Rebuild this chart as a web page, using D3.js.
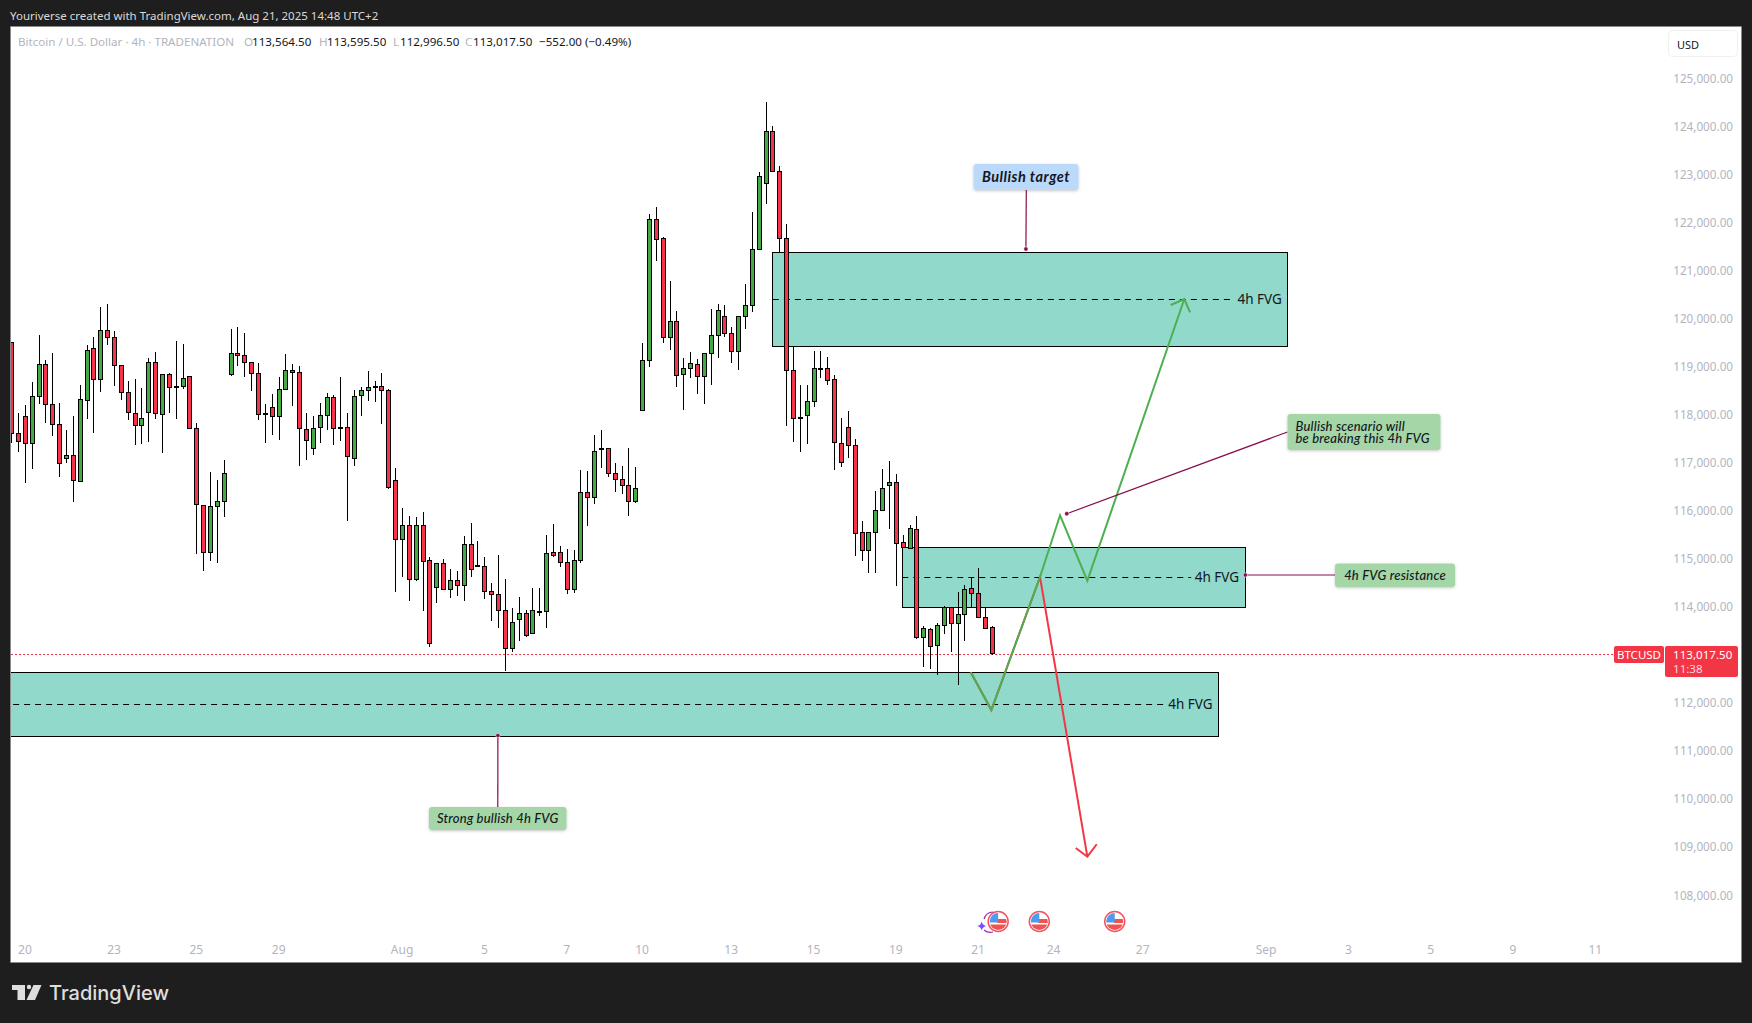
<!DOCTYPE html>
<html><head><meta charset="utf-8">
<script src="https://cdn.jsdelivr.net/npm/d3@7/dist/d3.min.js"></script>
<style>
html,body{margin:0;padding:0;background:#1e1e1e;overflow:hidden}
svg{display:block}
text{font-family:"Noto Sans",sans-serif}
</style></head><body>
<svg id="c" width="1752" height="1023"></svg>
<script>
const opens=[119500,117610,117960,117400,118380,119045,118210,117795,117090,117150,
116610,118295,119380,118730,119750,119605,119025,118460,118025,117775,
118045,119085,118005,118835,118580,118585,118795,117715,116110,115130,
116090,116195,118835,119275,119230,119085,118855,118020,118150,117960,
118525,118920,118880,117690,117295,117735,117985,118355,117735,117730,
117085,118400,118505,118590,118585,118505,116630,115400,115695,114570,
115695,114965,114400,114900,114360,114550,114445,115295,114865,114840,
114320,114255,113925,113135,113735,113860,113445,113905,113905,115130,
115130,114925,114360,114965,116380,116275,117300,117295,116775,116650,
116525,116190,118085,119125,122060,121665,119605,119940,118835,118960,
119045,118795,119275,119650,120045,119690,119315,120045,120270,121440,
122810,123895,123060,121665,118920,117935,117980,118275,118965,118960,
118730,117400,117735,117360,115545,115170,115545,116005,116525,116590,
115340,115215,115610,113360,113530,113195,113610,113985,113655,113840,
114380,114275,113780,113564.5];
const highs=[119500,118025,118190,118680,119650,119130,119275,118235,117670,117970,
118610,119440,119605,120230,120295,119730,119025,118690,118730,118545,
119170,119295,118835,118855,119525,119460,118795,117815,116110,116795,
116630,117045,119775,119815,119690,119085,119065,118210,118420,118775,
119255,119045,119005,118025,117960,118235,118440,118400,118775,118025,
118510,118565,118905,118690,118855,118525,116880,116045,115880,115860,
115965,115025,114900,114985,114775,114735,115465,115735,115360,115025,
114485,115070,114570,113965,114195,113925,114380,114380,115485,115715,
115255,115195,115175,116840,116815,117565,117670,117295,116985,116920,
117295,116900,119480,122165,122310,121685,120770,120145,119170,119295,
119150,119275,120190,120295,120270,119815,120045,120710,122210,123040,
124495,124000,123165,121960,119410,118605,118605,119315,119315,119190,
118815,117920,118065,117485,115775,115545,116400,116860,117025,116755,
115485,115695,115880,113590,113550,113655,114005,113985,114300,114445,
114610,114800,113985,113595.5];
const lows=[117400,117225,116570,116870,118225,117830,117560,116705,117000,116185,
116610,117905,117620,118475,119455,118595,118300,117895,117375,117395,
117435,117915,117205,118040,117915,118540,117715,115105,114750,114960,
114915,115875,118795,119015,118790,118495,117895,117415,117580,117475,
118525,118185,116935,117060,117165,117415,117685,117370,117455,115790,
116935,117975,118290,118265,117810,116440,114310,114610,114125,114540,
113915,113165,114085,114360,114185,114230,114125,114625,114825,114165,
113710,113565,112670,113065,113290,113360,113445,113815,113565,115025,
114835,114270,114290,114900,115685,116145,116895,116690,116395,116350,
115895,116165,118085,118995,121200,119495,119350,118580,118100,118765,
118435,118225,118620,119185,119620,119080,118935,119785,120140,121440,
122390,123060,121375,117765,117435,117225,117395,118150,118765,118620,
116850,116915,117100,115060,114955,114710,114710,116005,115625,114435,
115235,115215,113320,112735,112710,112585,113425,113065,112375,113280,
113985,113780,113550,112996.5];
const closes=[117610,117440,117400,118380,119045,118210,117795,116985,117150,116630,
118315,119335,118730,119750,119605,119025,118460,118045,117775,117920,
119085,118025,118835,118565,118560,118755,117715,116130,115130,116090,
116195,116775,119275,119230,119085,118855,118005,118010,117960,118525,
118920,118880,117715,117465,117715,117985,118360,117710,117730,117130,
118380,118505,118565,118585,118505,116485,115400,115695,114570,115695,
114945,113235,114900,114360,114550,114445,115295,114775,114855,114320,
114255,113925,113135,113675,113860,113405,113925,113900,115110,115070,
114925,114360,114965,116380,116275,117235,117290,116775,116650,116525,
116190,116465,119125,122060,121645,119605,119940,118815,118960,119065,
118795,119275,119650,120170,119690,119315,120045,120270,121440,122955,
123895,123060,121665,118920,117920,117925,118275,118960,118955,118710,
117420,117005,117360,115525,115170,115545,116005,116465,116590,115320,
115235,115630,113360,113550,113175,113610,113985,113655,113840,114360,
114275,113780,113550,113017.5];

const priceTicks=[125000,124000,123000,122000,121000,120000,119000,118000,117000,116000,115000,114000,112000,111000,110000,109000,108000];
const timeTickBars=[2,15,27,39,57,69,81,92,105,117,129,141,152,165,183,195,207,219,231];
const timeTickLabels=["20","23","25","29","Aug","5","7","10","13","15","19","21","24","27","Sep","3","5","9","11"];

// FVG zones: start bar, end bar, upper price, mid price, lower price
const zoneStart=[111,129.87,-3];
const zoneEnd=[186.1,179.87,176];
const zoneTop=[121376,115236,112634];
const zoneMid=[120398,114612,111968];
const zoneBottom=[119419,113987,111302];
const zoneLabels=["4h FVG","4h FVG","4h FVG"];

// Scenario paths (bar, price)
const greenBars=[139.86,142.86,149.96,152.88,156.86,171.0];
const greenPrices=[112634,111849,114617,115902,114540,120404];
const greenHeadBars=[169.02,171.0,171.84];
const greenHeadPrices=[120279,120404,120127];
const redBars=[139.86,142.86,149.96,156.86];
const redPrices=[112634,111849,114617,108795];
const redHeadBars=[155.17,156.86,158.23];
const redHeadPrices=[108977,108795,109054];

// Annotations
const noteTexts=[["Bullish target"],["Bullish scenario will","be breaking this 4h FVG"],["4h FVG resistance"],["Strong bullish 4h FVG"]];
const noteBars=[147.9,153.86,179.9,70.9];
const notePrices=[121445,115935,114659,111318];
const lastPrice=113017.5;
const eventBars=[144,150,161];

// layout
const noteBoxes=[
 {x:973.5,y:164,w:105,h:26,fill:"#bbd9fb",ax:1026.3,ay:190,fs:14.5,ls:.5,fw:700},
 {x:1287.5,y:414,w:153,h:36,fill:"#a5d6a7",ax:1287.5,ay:432,fs:13,ls:.2,fw:500},
 {x:1335,y:563.5,w:120,h:23.5,fill:"#a5d6a7",ax:1335,ay:575,fs:13,ls:.2,fw:500},
 {x:429,y:807,w:137.5,h:23,fill:"#a5d6a7",ax:497.8,ay:807,fs:13,ls:.2,fw:500}];

const svg=d3.select("#c");
const L=11,T=27,R=1741,B=962;
svg.append("rect").attr("width",1752).attr("height",1023).attr("fill","#1e1e1e");
svg.append("rect").attr("x",L).attr("y",T).attr("width",R-L).attr("height",B-T).attr("fill","#fff");
svg.append("path").attr("d",`M${L-.5},${T-.5}H${R+.5}V${B+.5}H${L-.5}Z`).attr("fill","none").attr("stroke","#8a8a8a");
const defs=svg.append("defs");
defs.append("clipPath").attr("id","plot").append("rect").attr("x",L).attr("y",T).attr("width",1650).attr("height",B-T);
const f=defs.append("filter").attr("id","sh").attr("x","-10%").attr("y","-20%").attr("width","120%").attr("height","150%");
f.append("feDropShadow").attr("dx",0).attr("dy",1).attr("stdDeviation",1.5).attr("flood-color","#000").attr("flood-opacity",.22);

const x=d3.scaleLinear().domain([0,143]).range([11.7,992.3]);
const y=d3.scaleLinear().domain([125000,108000]).range([78.2,894.9]);
const snap=v=>Math.floor(v)+.5;

const plot=svg.append("g").attr("clip-path","url(#plot)");

// price line
plot.append("line").attr("x1",L).attr("x2",1614).attr("y1",Math.round(y(lastPrice))+.5).attr("y2",Math.round(y(lastPrice))+.5)
 .attr("stroke","#f23645").attr("stroke-dasharray","2,2");

// zones
const zones=d3.range(zoneStart.length);
plot.selectAll("rect.zone").data(zones).join("rect").attr("class","zone")
 .attr("x",i=>snap(x(zoneStart[i]))).attr("width",i=>Math.round(x(zoneEnd[i])-x(zoneStart[i])))
 .attr("y",i=>snap(y(zoneTop[i]))).attr("height",i=>Math.round(y(zoneBottom[i])-y(zoneTop[i])))
 .attr("fill","#90d9cb").attr("stroke","#000").attr("stroke-width",1);
const labelGap=[54,54,54];
plot.selectAll("line.mid").data(zones).join("line").attr("class","mid")
 .attr("x1",i=>x(zoneStart[i])).attr("x2",i=>x(zoneEnd[i])-labelGap[i])
 .attr("y1",i=>snap(y(zoneMid[i]))).attr("y2",i=>snap(y(zoneMid[i])))
 .attr("stroke","#000").attr("stroke-dasharray","6,5");
plot.selectAll("text.zl").data(zones).join("text").attr("class","zl")
 .attr("x",i=>x(zoneEnd[i])-6).attr("y",i=>y(zoneMid[i])+4.5).attr("text-anchor","end")
 .attr("font-size",13.5).attr("fill","#131722").text(i=>zoneLabels[i]);

// candles
const idx=d3.range(opens.length);
const up="#45a945",dn="#f5334a";
const cg=plot.selectAll("g.c").data(idx).join("g").attr("class","c");
cg.append("line").attr("x1",i=>snap(x(i))).attr("x2",i=>snap(x(i)))
 .attr("y1",i=>Math.round(y(highs[i]))).attr("y2",i=>Math.round(y(lows[i]))).attr("stroke","#000");
cg.append("rect")
 .attr("x",i=>Math.floor(x(i))-1.5).attr("width",4)
 .attr("y",i=>snap(y(Math.max(opens[i],closes[i]))))
 .attr("height",i=>Math.max(1,Math.round(y(Math.min(opens[i],closes[i]))-y(Math.max(opens[i],closes[i])))))
 .attr("fill",i=>closes[i]>=opens[i]?up:dn).attr("stroke","#000");

// scenario paths
const ln=d3.line().x(d=>x(d[0])).y(d=>y(d[1]));
const zip=(a,b)=>a.map((v,i)=>[v,b[i]]);
[[redBars,redPrices,redHeadBars,redHeadPrices,"#f23645"],[greenBars,greenPrices,greenHeadBars,greenHeadPrices,"#4caf50"]].forEach(s=>{
 plot.append("path").attr("d",ln(zip(s[0],s[1]))).attr("fill","none").attr("stroke",s[4]).attr("stroke-width",2).attr("stroke-linejoin","miter");
 plot.append("path").attr("d",ln(zip(s[2],s[3]))).attr("fill","none").attr("stroke",s[4]).attr("stroke-width",2);
});

// annotations
const noteG=svg.append("g");
noteBoxes.forEach((b,i)=>{
 const px=x(noteBars[i]),py=y(notePrices[i]);
 noteG.append("line").attr("x1",b.ax).attr("y1",b.ay).attr("x2",px).attr("y2",py).attr("stroke","#880e4f").attr("stroke-width",1.2);
 noteG.append("circle").attr("cx",px).attr("cy",py).attr("r",2.2).attr("fill","#880e4f").attr("stroke","#fff").attr("stroke-width",.6);
 noteG.append("rect").attr("x",b.x).attr("y",b.y).attr("width",b.w).attr("height",b.h).attr("rx",3).attr("fill",b.fill).attr("filter","url(#sh)");
 const lines=noteTexts[i];
 const t=noteG.append("text").attr("font-size",b.fs).attr("font-style","italic")
  .attr("font-weight",b.fw).attr("fill","#131722")
  .attr("style",`font-family:"Lato","Noto Sans",sans-serif;letter-spacing:${b.ls}px`);
 lines.forEach((s,k)=>t.append("tspan").attr("x",lines.length>1?b.x+8:b.x+b.w/2).attr("text-anchor",lines.length>1?"start":"middle")
   .attr("y",b.y+b.h/2+4.5+(lines.length>1?(k-.5)*12:0)).text(s));
});

// price axis
const yAxis=d3.axisLeft(y).tickValues(priceTicks).tickSize(0).tickPadding(0).tickFormat(d=>d3.format(",.2f")(d));
const ya=svg.append("g").attr("transform","translate(1733,0)").call(yAxis);
ya.select(".domain").remove();
ya.selectAll("text").attr("fill","#b2b5be").attr("font-size",11.7).attr("dy",".35em");

// time axis
const xAxis=d3.axisBottom(x).tickValues(timeTickBars).tickSize(0).tickPadding(0).tickFormat((d,i)=>timeTickLabels[i]);
const xa=svg.append("g").attr("transform","translate(-1,947)").call(xAxis);
xa.select(".domain").remove();
xa.selectAll("text").attr("fill","#b2b5be").attr("font-size",12).attr("dy",".6em");

// header
svg.append("text").attr("x",10).attr("y",19.5).attr("font-size",11.5).attr("fill","#d9d9d9")
 .text("Youriverse created with TradingView.com, Aug 21, 2025 14:48 UTC+2");
const lg=[["Bitcoin / U.S. Dollar · 4h · TRADENATION",18,"#b2b5be"],["O",244,"#b2b5be"],["113,564.50",252,"#131722"],["H",319,"#b2b5be"],["113,595.50",327,"#131722"],["L",393,"#b2b5be"],["112,996.50",400,"#131722"],["C",465,"#b2b5be"],["113,017.50",473,"#131722"],["−552.00 (−0.49%)",539,"#131722"]];
lg.forEach(d=>svg.append("text").attr("x",d[1]).attr("y",45.5).attr("font-size",11.6).attr("fill",d[2]).text(d[0]));

// USD
svg.append("rect").attr("x",1668.5).attr("y",30.5).attr("width",69).attr("height",26).attr("rx",4).attr("fill","#fff").attr("stroke","#f0f0f0");
svg.append("text").attr("x",1677).attr("y",48.5).attr("font-size",11).attr("fill","#131722").text("USD");

// last price tags
svg.append("rect").attr("x",1614).attr("y",646).attr("width",50).attr("height",17).attr("rx",2).attr("fill","#f23645");
svg.append("text").attr("x",1639).attr("y",659).attr("text-anchor","middle").attr("font-size",11.5).attr("fill","#fff").text("BTCUSD");
svg.append("rect").attr("x",1665).attr("y",646).attr("width",73).attr("height",31).attr("rx",2).attr("fill","#f23645");
svg.append("text").attr("x",1673).attr("y",659).attr("font-size",11.6).attr("fill","#fff").text("113,017.50");
svg.append("text").attr("x",1673).attr("y",673).attr("font-size",11.6).attr("fill","#ffd5da").text("11:38");

// events
const evG=svg.append("g");
eventBars.forEach(b=>{
 const cx=x(b)-1,cy=921.5;
 const g=evG.append("g").attr("transform",`translate(${cx},${cy})`);
 defs.append("clipPath").attr("id","ev"+b).append("circle").attr("r",8.5);
 g.append("circle").attr("r",10).attr("fill","#fff").attr("stroke","#f7525f").attr("stroke-width",1.5);
 const h=g.append("g").attr("clip-path",`url(#ev${b})`);
 h.append("rect").attr("x",-9).attr("y",-9).attr("width",18).attr("height",18).attr("fill","#fff");
 h.append("rect").attr("x",-1).attr("y",-2.5).attr("width",10).attr("height",4).attr("fill","#ef5350");
 h.append("rect").attr("x",-9).attr("y",3).attr("width",18).attr("height",6).attr("fill","#ef5350");
 h.append("rect").attr("x",-9).attr("y",-9).attr("width",9).attr("height",10).attr("fill","#4c9cf1");
});
evG.append("path").attr("d","M993,912 A10,10 0 0 0 984,919").attr("fill","none").attr("stroke","#9c27b0").attr("stroke-width",1.2);
evG.append("path").attr("d","M984,930 A10,10 0 0 0 993,932").attr("fill","none").attr("stroke","#9c27b0").attr("stroke-width",1.2);
evG.append("path").attr("d","M981.7,921.5 Q982.5,925 986,926 Q982.5,927 981.7,930.5 Q981,927 977.5,926 Q981,925 981.7,921.5Z").attr("fill","#7c4dff");

// logo
const logo=svg.append("g").attr("fill","#dedede");
logo.append("path").attr("d","M12,985H25V1000H17.5V990H12Z");
logo.append("circle").attr("cx",29).attr("cy",987).attr("r",2.2);
logo.append("path").attr("d","M33.5,985H41.5L35,1000H26.5Z");
svg.append("text").attr("x",49).attr("y",1000).attr("font-size",20).attr("font-weight",500).attr("fill","#dedede")
 .attr("style",'font-family:"Inter",sans-serif').text("TradingView");
</script>
</body></html>
